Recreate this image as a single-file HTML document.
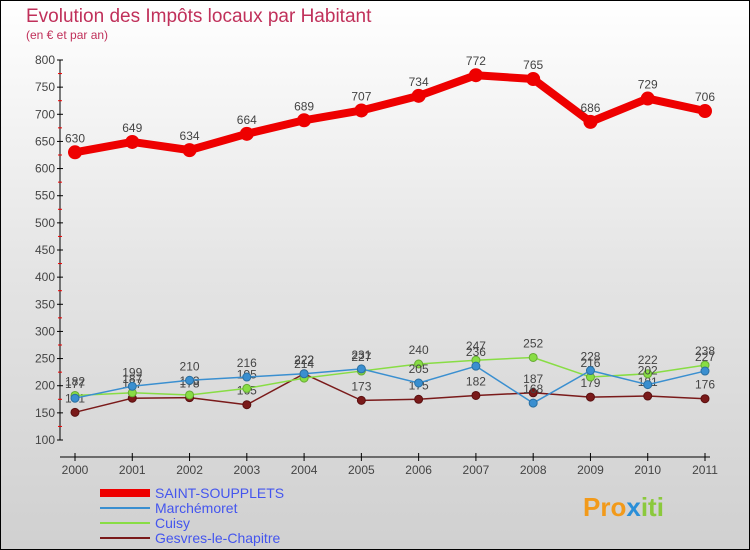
<!DOCTYPE html>
<html><head><meta charset="utf-8"><style>
body{margin:0;width:750px;height:550px;overflow:hidden;font-family:"Liberation Sans",sans-serif}
svg{display:block}
</style></head><body>
<svg width="750" height="550">
<defs><linearGradient id="bg" x1="0" y1="0" x2="0" y2="1"><stop offset="0" stop-color="#ffffff"/><stop offset="0.5" stop-color="#e4e4e4"/><stop offset="1" stop-color="#d0d0d0"/></linearGradient></defs>
<rect x="0.5" y="0.5" width="749" height="549" fill="url(#bg)" stroke="#000"/>
<text x="26" y="22" font-size="19" fill="#c0305a">Evolution des Impôts locaux par Habitant</text>
<text x="26" y="39" font-size="12" fill="#c0305a">(en € et par an)</text>
<g id="axes"></g>
<g id="series"></g>
<g id="legend"></g>
<text x="583" y="516" font-size="26" font-weight="bold" fill="#f29a1a">Pro<tspan fill="#2a8fd8">x</tspan><tspan fill="#8bc93c">iti</tspan></text>
</svg>
<script>
const years=[2000,2001,2002,2003,2004,2005,2006,2007,2008,2009,2010,2011];
const yTicks=[100,150,200,250,300,350,400,450,500,550,600,650,700,750,800];
const saint=[630,649,634,664,689,707,734,772,765,686,729,706];
const march=[177,199,210,216,222,231,205,236,168,228,202,227];
const cuisy=[182,187,183,195,214,227,240,247,252,216,222,238];
const gesvres=[151,177,178,165,222,173,175,182,187,179,181,176];
const names=["SAINT-SOUPPLETS","Marchémoret","Cuisy","Gesvres-le-Chapitre"];
const NS="http://www.w3.org/2000/svg";
function X(i){return 75+i*(630/11);}
function Y(v){return 440-(v-100)*(380/700);}
function mk(p,t,a){const e=document.createElementNS(NS,t);for(const k in a)e.setAttribute(k,a[k]);p.appendChild(e);return e;}
const ax=document.getElementById('axes');
let e=mk(ax,'line',{x1:60,y1:60,x2:60,y2:440,stroke:'#000'});


e=mk(ax,'line',{x1:60,y1:457,x2:710,y2:457,stroke:'#000'});


yTicks.forEach((v,i)=>{
 mk(ax,'line',{x1:57,y1:Y(v),x2:63,y2:Y(v),stroke:'#000'});
 if(i<yTicks.length-1) mk(ax,'line',{x1:58,y1:Y(v+25),x2:62,y2:Y(v+25),stroke:'#e00'});
 const t=mk(ax,'text',{x:55,y:Y(v)+4,'font-size':12,fill:'#444','text-anchor':'end'});t.textContent=v;
 
 
});
years.forEach((y,i)=>{
 mk(ax,'line',{x1:X(i),y1:453,x2:X(i),y2:461,stroke:'#000'});
 const t=mk(ax,'text',{x:X(i),y:474,'font-size':12,fill:'#444','text-anchor':'middle'});t.textContent=y;
 
 
});
const sg=document.getElementById('series');
function draw(vals,color,w,r,name,dotStroke){
 const g=mk(sg,'g',{});
 
 
 mk(g,'polyline',{points:vals.map((v,i)=>X(i)+','+Y(v)).join(' '),fill:'none',stroke:color,'stroke-width':w,'stroke-linejoin':'round'});
 vals.forEach((v,i)=>{
  const c=mk(g,'circle',{cx:X(i),cy:Y(v),r:r,fill:color,stroke:dotStroke,'stroke-width':1});
  
  
  const t=mk(g,'text',{x:X(i),y:Y(v)-10,'font-size':12,fill:'#444','text-anchor':'middle'});t.textContent=v;
  
  
 });
}
draw(gesvres,'#7a1a1a',1.5,4,'series-gesvres','#5a1010');
draw(cuisy,'#88dd44',1.5,4,'series-cuisy','#66aa33');
draw(march,'#3a8fd0',1.5,4,'series-marchemoret','#2a6fa0');
draw(saint,'#ee0000',8,6.5,'series-saint-soupplets','#ee0000');
const lg=document.getElementById('legend');
const lc=['#ee0000','#3a8fd0','#88dd44','#7a1a1a'],lw=[8,2,2,2];
names.forEach((n,i)=>{
 const y=493+i*15;
 const g=mk(lg,'g',{});
 
 
 mk(g,'line',{x1:100,y1:y,x2:150,y2:y,stroke:lc[i],'stroke-width':lw[i]});
 const t=mk(g,'text',{x:155,y:y+5,'font-size':14,fill:'#4455ee'});t.textContent=n;
});
</script>
</body></html>
